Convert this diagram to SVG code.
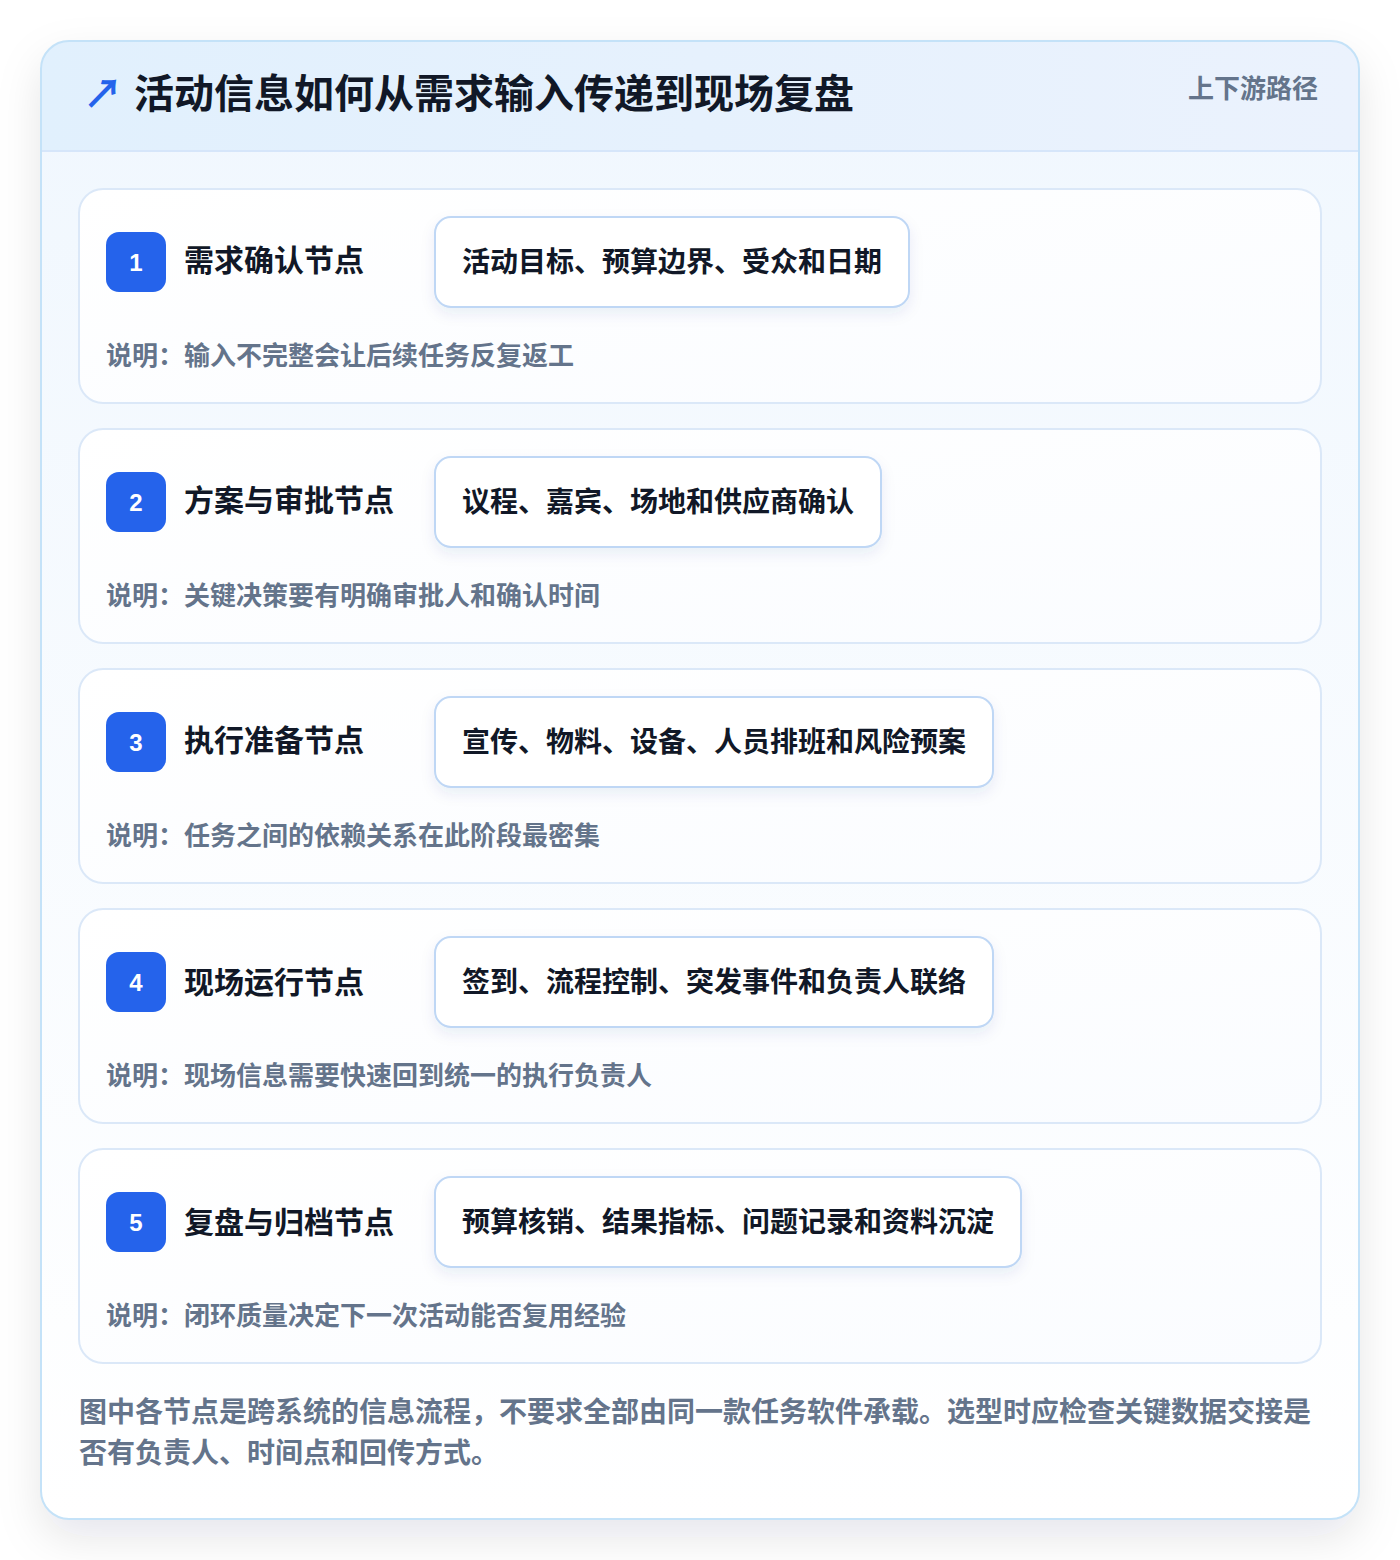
<svg xmlns="http://www.w3.org/2000/svg" width="1400" height="1560" viewBox="0 0 1400 1560">
<defs>
<linearGradient id="hdr" x1="0" y1="0" x2="1" y2="0"><stop offset="0" stop-color="#e1f0fd"/><stop offset="1" stop-color="#ebf2fd"/></linearGradient>
<linearGradient id="body" x1="0" y1="0" x2="0" y2="1"><stop offset="0" stop-color="#f0f7fe"/><stop offset="1" stop-color="#ffffff"/></linearGradient>
<linearGradient id="cardg" x1="0" y1="0" x2="1" y2="1"><stop offset="0" stop-color="#ffffff"/><stop offset="1" stop-color="#fafcff"/></linearGradient>
<filter id="sh" x="-10%" y="-10%" width="120%" height="120%"><feDropShadow dx="0" dy="18" stdDeviation="22" flood-color="#0f172a" flood-opacity="0.10"/></filter>
<filter id="psh" x="-10%" y="-20%" width="120%" height="160%"><feDropShadow dx="0" dy="6" stdDeviation="7" flood-color="#1e3a8a" flood-opacity="0.08"/></filter>
<clipPath id="outerClip"><rect x="41" y="41" width="1318" height="1478" rx="28"/></clipPath>
</defs>
<style>
text{font-family:"Noto Sans CJK SC","Noto Sans",sans-serif;}
.card{fill:url(#cardg);stroke:#dbe8f8;stroke-width:2;}
.badge{fill:#2563eb;}
.bnum{fill:#ffffff;font-size:24px;font-weight:700;font-family:"Liberation Sans","Noto Sans",sans-serif;}
.ntitle{fill:#111827;font-size:30px;font-weight:700;}
.pill{fill:#ffffff;stroke:#bfd7f5;stroke-width:2;}
.ptext{fill:#111827;font-size:28px;font-weight:700;}
.desc{fill:#64748b;font-size:26px;font-weight:700;}
.foot{fill:#64748b;font-size:28px;font-weight:700;}
</style>
<rect width="1400" height="1560" fill="#ffffff"/>
<g id="frame">
<rect x="41" y="41" width="1318" height="1478" rx="28" fill="#ffffff" filter="url(#sh)"/>
<g clip-path="url(#outerClip)">
<rect x="41" y="41" width="1318" height="1478" fill="url(#body)"/>
<rect x="41" y="41" width="1318" height="110" fill="url(#hdr)"/>
<line x1="41" y1="151" x2="1359" y2="151" stroke="#d6e6fa" stroke-width="2"/>
</g>
<rect x="41" y="41" width="1318" height="1478" rx="28" fill="none" stroke="#c4e2f8" stroke-width="2"/>
<text x="83" y="108" fill="#2563eb" font-size="40" font-weight="700" font-family="DejaVu Sans,sans-serif">↗</text>
<text x="134" y="108" fill="#111827" font-size="40" font-weight="700">活动信息如何从需求输入传递到现场复盘</text>
<text x="1318" y="98" fill="#64748b" font-size="26" font-weight="700" text-anchor="end">上下游路径</text>
</g>
<g id="connectors"></g>
<g id="node1">
<rect class="card" x="79" y="189" width="1242" height="214" rx="24"/>
<rect class="badge" x="106" y="232" width="60" height="60" rx="13"/>
<text class="bnum" x="136" y="270.5" text-anchor="middle">1</text>
<text class="ntitle" x="184" y="271">需求确认节点</text>
<rect class="pill" x="435" y="217" width="474" height="90" rx="16" filter="url(#psh)"/>
<text class="ptext" x="462" y="272">活动目标、预算边界、受众和日期</text>
<text class="desc" x="106" y="365">说明：输入不完整会让后续任务反复返工</text>
</g>
<g id="node2">
<rect class="card" x="79" y="429" width="1242" height="214" rx="24"/>
<rect class="badge" x="106" y="472" width="60" height="60" rx="13"/>
<text class="bnum" x="136" y="510.5" text-anchor="middle">2</text>
<text class="ntitle" x="184" y="511">方案与审批节点</text>
<rect class="pill" x="435" y="457" width="446" height="90" rx="16" filter="url(#psh)"/>
<text class="ptext" x="462" y="512">议程、嘉宾、场地和供应商确认</text>
<text class="desc" x="106" y="605">说明：关键决策要有明确审批人和确认时间</text>
</g>
<g id="node3">
<rect class="card" x="79" y="669" width="1242" height="214" rx="24"/>
<rect class="badge" x="106" y="712" width="60" height="60" rx="13"/>
<text class="bnum" x="136" y="750.5" text-anchor="middle">3</text>
<text class="ntitle" x="184" y="751">执行准备节点</text>
<rect class="pill" x="435" y="697" width="558" height="90" rx="16" filter="url(#psh)"/>
<text class="ptext" x="462" y="752">宣传、物料、设备、人员排班和风险预案</text>
<text class="desc" x="106" y="845">说明：任务之间的依赖关系在此阶段最密集</text>
</g>
<g id="node4">
<rect class="card" x="79" y="909" width="1242" height="214" rx="24"/>
<rect class="badge" x="106" y="952" width="60" height="60" rx="13"/>
<text class="bnum" x="136" y="990.5" text-anchor="middle">4</text>
<text class="ntitle" x="184" y="993">现场运行节点</text>
<rect class="pill" x="435" y="937" width="558" height="90" rx="16" filter="url(#psh)"/>
<text class="ptext" x="462" y="992">签到、流程控制、突发事件和负责人联络</text>
<text class="desc" x="106" y="1085">说明：现场信息需要快速回到统一的执行负责人</text>
</g>
<g id="node5">
<rect class="card" x="79" y="1149" width="1242" height="214" rx="24"/>
<rect class="badge" x="106" y="1192" width="60" height="60" rx="13"/>
<text class="bnum" x="136" y="1230.5" text-anchor="middle">5</text>
<text class="ntitle" x="184" y="1233">复盘与归档节点</text>
<rect class="pill" x="435" y="1177" width="586" height="90" rx="16" filter="url(#psh)"/>
<text class="ptext" x="462" y="1232">预算核销、结果指标、问题记录和资料沉淀</text>
<text class="desc" x="106" y="1325">说明：闭环质量决定下一次活动能否复用经验</text>
</g>
<g id="footer">
<text class="foot" x="79" y="1422">图中各节点是跨系统的信息流程，不要求全部由同一款任务软件承载。选型时应检查关键数据交接是</text>
<text class="foot" x="79" y="1463">否有负责人、时间点和回传方式。</text>
</g>
</svg>
